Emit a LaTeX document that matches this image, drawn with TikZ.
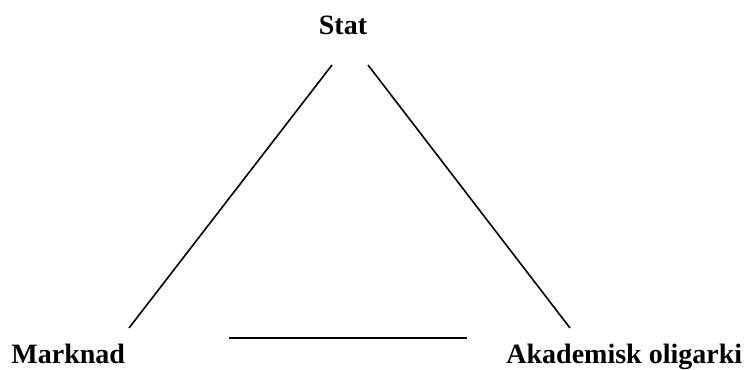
\documentclass[tikz,border=0pt]{standalone}
\usepackage{fontspec}
\setmainfont{Liberation Serif}

\begin{document}
\begin{tikzpicture}[x=0.5pt,y=-0.5pt,
    corner/.style={font=\fontsize{14}{16}\selectfont\bfseries, inner sep=0pt},
    side/.style={line width=0.8pt}]
  \useasboundingbox (0,0) rectangle (748,369);
  % labels
  \node[corner] (stat) at (343,25) {Stat};
  \node[corner, anchor=base west] (marknad) at (11,363) {Marknad};
  \node[corner, anchor=base west] (akademi) at (506,363) {Akademisk oligarki};
  % line ends
  \coordinate (statL) at (332,65);
  \coordinate (statR) at (368,65);
  \coordinate (markT) at (129,328);
  \coordinate (akadT) at (570,328);
  \coordinate (botL) at (229,338);
  \coordinate (botR) at (467,338);
  \draw[side] (statL) -- (markT);
  \draw[side] (statR) -- (akadT);
  \draw[side] (botL) -- (botR);
\end{tikzpicture}
\end{document}
